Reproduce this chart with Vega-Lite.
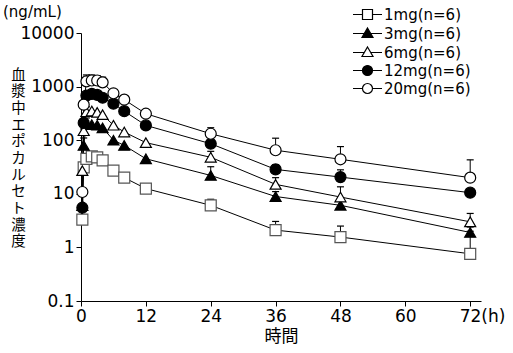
{
  "$schema": "https://vega.github.io/schema/vega-lite/v6.json",
  "width": 400,
  "height": 268,
  "autosize": {"type": "none"},
  "padding": {"left": 81, "top": 33, "right": 32, "bottom": 52},
  "background": "white",
  "title": {"text": "(ng/mL)", "anchor": "start", "frame": "group", "dx": -78, "dy": 17, "fontSize": 15, "fontWeight": "normal", "font": "DejaVu Sans", "color": "black"},
  "config": {
    "view": {"stroke": null},
    "axis": {"grid": false, "domainColor": "black", "tickColor": "black", "labelColor": "black", "titleColor": "black", "domainWidth": 1, "tickWidth": 1, "tickSize": 5, "labelFont": "DejaVu Sans", "labelFontSize": 17, "labelOverlap": false, "labelFlush": false},
    "legend": {"orient": "none", "legendX": 279, "legendY": -26, "labelFont": "DejaVu Sans", "labelFontSize": 15, "labelColor": "black", "symbolSize": 100, "symbolStrokeWidth": 1.2, "labelOffset": 9, "rowPadding": 2, "padding": 0}
  },
  "data": {"values": [
    {"dose": "1mg(n=6)", "t": 0.25, "c": 3.3},
    {"dose": "1mg(n=6)", "t": 0.5, "c": 31},
    {"dose": "1mg(n=6)", "t": 1, "c": 45},
    {"dose": "1mg(n=6)", "t": 2, "c": 50},
    {"dose": "1mg(n=6)", "t": 3, "c": 48},
    {"dose": "1mg(n=6)", "t": 4, "c": 42},
    {"dose": "1mg(n=6)", "t": 6, "c": 27},
    {"dose": "1mg(n=6)", "t": 8, "c": 20},
    {"dose": "1mg(n=6)", "t": 12, "c": 12.5, "u": 13.5},
    {"dose": "1mg(n=6)", "t": 24, "c": 6.1, "u": 7.9},
    {"dose": "1mg(n=6)", "t": 36, "c": 2.1, "u": 3.05},
    {"dose": "1mg(n=6)", "t": 48, "c": 1.56, "u": 2.5},
    {"dose": "1mg(n=6)", "t": 72, "c": 0.76, "u": 2.0},
    {"dose": "3mg(n=6)", "t": 0.25, "c": 6},
    {"dose": "3mg(n=6)", "t": 0.5, "c": 80, "u": 110},
    {"dose": "3mg(n=6)", "t": 1, "c": 200, "u": 260},
    {"dose": "3mg(n=6)", "t": 2, "c": 195},
    {"dose": "3mg(n=6)", "t": 3, "c": 190},
    {"dose": "3mg(n=6)", "t": 4, "c": 170},
    {"dose": "3mg(n=6)", "t": 6, "c": 100},
    {"dose": "3mg(n=6)", "t": 8, "c": 80},
    {"dose": "3mg(n=6)", "t": 12, "c": 45},
    {"dose": "3mg(n=6)", "t": 24, "c": 22, "u": 32},
    {"dose": "3mg(n=6)", "t": 36, "c": 8.9, "u": 11},
    {"dose": "3mg(n=6)", "t": 48, "c": 6.1, "u": 8},
    {"dose": "3mg(n=6)", "t": 72, "c": 1.9, "u": 2.4},
    {"dose": "6mg(n=6)", "t": 0.25, "c": 27},
    {"dose": "6mg(n=6)", "t": 0.5, "c": 150, "u": 250},
    {"dose": "6mg(n=6)", "t": 1, "c": 340, "u": 420},
    {"dose": "6mg(n=6)", "t": 2, "c": 350},
    {"dose": "6mg(n=6)", "t": 3, "c": 330},
    {"dose": "6mg(n=6)", "t": 4, "c": 300},
    {"dose": "6mg(n=6)", "t": 6, "c": 190},
    {"dose": "6mg(n=6)", "t": 8, "c": 142},
    {"dose": "6mg(n=6)", "t": 12, "c": 90},
    {"dose": "6mg(n=6)", "t": 24, "c": 48, "u": 62},
    {"dose": "6mg(n=6)", "t": 36, "c": 15, "u": 20},
    {"dose": "6mg(n=6)", "t": 48, "c": 8.7, "u": 13.5},
    {"dose": "6mg(n=6)", "t": 72, "c": 3.0, "u": 4.3},
    {"dose": "12mg(n=6)", "t": 0.25, "c": 5.5},
    {"dose": "12mg(n=6)", "t": 0.5, "c": 210},
    {"dose": "12mg(n=6)", "t": 1, "c": 680},
    {"dose": "12mg(n=6)", "t": 2, "c": 730},
    {"dose": "12mg(n=6)", "t": 3, "c": 700},
    {"dose": "12mg(n=6)", "t": 4, "c": 620},
    {"dose": "12mg(n=6)", "t": 6, "c": 480},
    {"dose": "12mg(n=6)", "t": 8, "c": 348},
    {"dose": "12mg(n=6)", "t": 12, "c": 189},
    {"dose": "12mg(n=6)", "t": 24, "c": 86},
    {"dose": "12mg(n=6)", "t": 36, "c": 28.5, "u": 35},
    {"dose": "12mg(n=6)", "t": 48, "c": 20.5, "u": 28},
    {"dose": "12mg(n=6)", "t": 72, "c": 10.5},
    {"dose": "20mg(n=6)", "t": 0.25, "c": 10.8},
    {"dose": "20mg(n=6)", "t": 0.5, "c": 460},
    {"dose": "20mg(n=6)", "t": 1, "c": 1250, "u": 1650},
    {"dose": "20mg(n=6)", "t": 2, "c": 1300, "u": 1650},
    {"dose": "20mg(n=6)", "t": 3, "c": 1300, "u": 1600},
    {"dose": "20mg(n=6)", "t": 4, "c": 1200, "u": 1500},
    {"dose": "20mg(n=6)", "t": 6, "c": 750},
    {"dose": "20mg(n=6)", "t": 8, "c": 570},
    {"dose": "20mg(n=6)", "t": 12, "c": 312},
    {"dose": "20mg(n=6)", "t": 24, "c": 132, "u": 171},
    {"dose": "20mg(n=6)", "t": 36, "c": 65, "u": 109},
    {"dose": "20mg(n=6)", "t": 48, "c": 44, "u": 76},
    {"dose": "20mg(n=6)", "t": 72, "c": 20, "u": 43}
  ]},
  "encoding": {
    "x": {"field": "t", "type": "quantitative", "scale": {"domain": [0, 74], "nice": false, "zero": false},
      "axis": {"values": [0, 12, 24, 36, 48, 60, 72], "title": "時間", "titleFont": "Noto Sans CJK JP", "titleFontSize": 17, "titleFontWeight": "normal", "titlePadding": 4, "labelPadding": 2,
        "labelExpr": "datum.value == 72 ? '72(h)' : datum.label",
        "labelAlign": {"condition": {"test": "datum.value == 72", "value": "left"}, "value": "center"},
        "labelOffset": {"condition": {"test": "datum.value == 72", "value": -11}, "value": 0}}},
    "y": {"field": "c", "type": "quantitative", "scale": {"type": "log", "domain": [0.1, 10000], "nice": false},
      "axis": {"values": [0.1, 1, 10, 100, 1000, 10000], "labelExpr": "datum.value < 1 ? '0.1' : format(datum.value, 'd')", "labelPadding": 2,
        "title": ["血", "漿", "中", "エ", "ポ", "カ", "ル", "セ", "ト", "濃", "度"], "titleAngle": 0, "titleFont": "Noto Sans CJK JP", "titleFontSize": 14.5, "titleFontWeight": "normal", "titleLineHeight": 16.7, "titleAlign": "center", "titleBaseline": "top", "titleX": -63, "titleY": 35}}
  },
  "layer": [
    {
      "transform": [{"filter": "isValid(datum.u)"}],
      "mark": {"type": "rule", "color": "black", "strokeWidth": 1},
      "encoding": {"y2": {"field": "u"}}
    },
    {
      "transform": [{"filter": "isValid(datum.u)"}],
      "mark": {"type": "point", "shape": "stroke", "size": 49, "stroke": "black", "strokeWidth": 1.2, "opacity": 1},
      "encoding": {"y": {"field": "u", "type": "quantitative"}}
    },
    {
      "mark": {"type": "line", "color": "black", "strokeWidth": 1},
      "encoding": {"detail": {"field": "dose"}}
    },
    {
      "mark": {"type": "point", "size": 121, "strokeWidth": 1.2, "opacity": 1, "fillOpacity": 1},
      "encoding": {
        "shape": {"field": "dose", "type": "nominal", "scale": {"domain": ["1mg(n=6)", "3mg(n=6)", "6mg(n=6)", "12mg(n=6)", "20mg(n=6)"], "range": ["square", "triangle-up", "triangle-up", "circle", "circle"]}, "legend": null},
        "fill": {"field": "dose", "type": "nominal", "scale": {"domain": ["1mg(n=6)", "3mg(n=6)", "6mg(n=6)", "12mg(n=6)", "20mg(n=6)"], "range": ["white", "black", "white", "black", "white"]}, "legend": null},
        "stroke": {"field": "dose", "type": "nominal", "scale": {"domain": ["1mg(n=6)", "3mg(n=6)", "6mg(n=6)", "12mg(n=6)", "20mg(n=6)"], "range": ["#555555", "black", "black", "black", "black"]}, "legend": null}
      }
    },
    {
      "transform": [{"filter": "false"}],
      "mark": {"type": "point", "size": 100, "strokeWidth": 1.2, "opacity": 1, "fillOpacity": 1},
      "encoding": {
        "shape": {"field": "dose", "type": "nominal", "title": null, "scale": {"domain": ["1mg(n=6)", "3mg(n=6)", "6mg(n=6)", "12mg(n=6)", "20mg(n=6)"], "range": ["M-2.9,0H-1M1,0H2.9M-1,-1H1V1H-1Z", "M-2.9,0H-0.6M0.6,0H2.9M0,-1.1L1.1,0.8H-1.1Z", "M-2.9,0H-0.6M0.6,0H2.9M0,-1.1L1.1,0.8H-1.1Z", "M-2.9,0H-1M1,0H2.9M1,0A1,1,0,1,1,-1,0A1,1,0,1,1,1,0Z", "M-2.9,0H-1M1,0H2.9M1,0A1,1,0,1,1,-1,0A1,1,0,1,1,1,0Z"]}},
        "fill": {"field": "dose", "type": "nominal", "title": null, "scale": {"domain": ["1mg(n=6)", "3mg(n=6)", "6mg(n=6)", "12mg(n=6)", "20mg(n=6)"], "range": ["white", "black", "white", "black", "white"]}},
        "stroke": {"field": "dose", "type": "nominal", "title": null, "scale": {"domain": ["1mg(n=6)", "3mg(n=6)", "6mg(n=6)", "12mg(n=6)", "20mg(n=6)"], "range": ["black", "black", "black", "black", "black"]}}
      }
    }
  ],
  "resolve": {"scale": {"shape": "independent", "fill": "independent", "stroke": "independent"}, "legend": {"shape": "independent", "fill": "independent", "stroke": "independent"}}
}
